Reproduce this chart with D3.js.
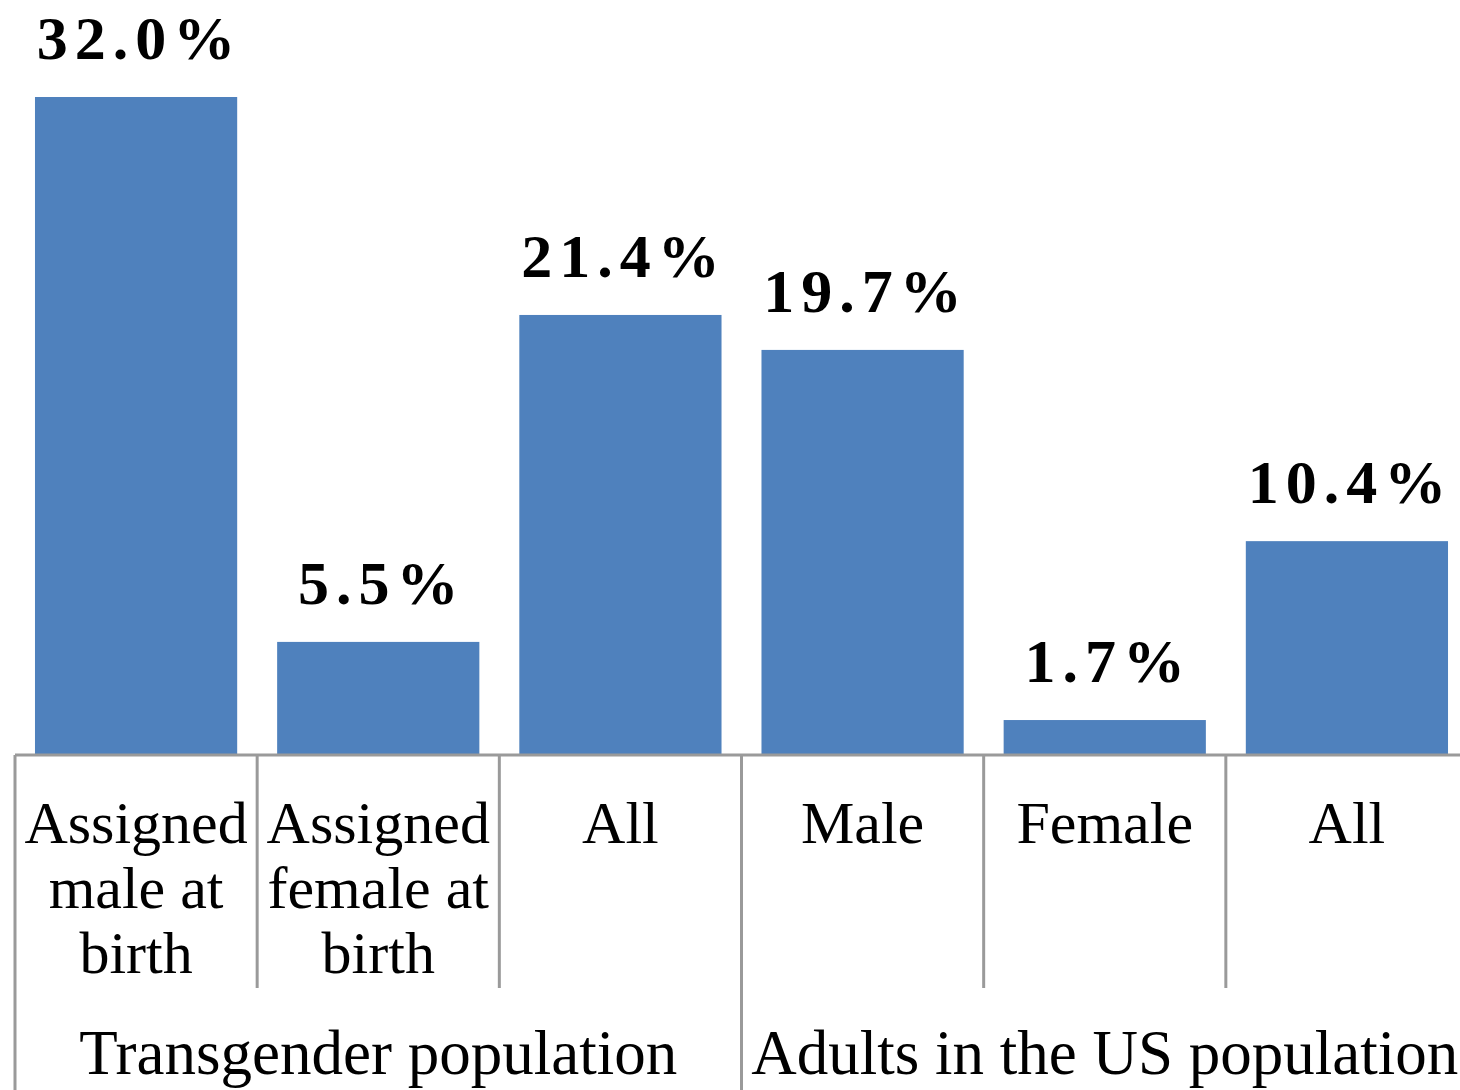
<!DOCTYPE html>
<html>
<head>
<meta charset="utf-8">
<script src="https://cdn.jsdelivr.net/npm/d3@7"></script>
<style>
  body { margin: 0; background: #fff; }
  svg text { font-family: Georgia, 'Liberation Serif', serif; fill: #000; }
</style>
</head>
<body>
<div id="chart"></div>
<script>
// data
let categories = ['tg-amab', 'tg-afab', 'tg-all', 'us-male', 'us-female', 'us-all']
let values = [32.0, 5.5, 21.4, 19.7, 1.7, 10.4]
let tickLabels = [
  ['Assigned', 'male at', 'birth'],
  ['Assigned', 'female at', 'birth'],
  ['All'],
  ['Male'],
  ['Female'],
  ['All']
]
let groups = ['Transgender population', 'Adults in the US population']
let groupSize = [3, 3]

let width = 1460
let height = 1090
let baseline = 755

let svg = d3.select('#chart')
  .append('svg')
  .attr('width', width)
  .attr('height', height)

let x = d3.scaleBand()
  .domain(categories)
  .range([15, 1468])
  .paddingInner(0.165)
  .paddingOuter(0.0825)

let y = d3.scaleLinear()
  .domain([0, 32])
  .range([baseline, 97])

let step = x.step()
let x0 = x.range()[0]

// bars
svg.selectAll('.bar')
  .data(values)
  .enter()
  .append('rect')
  .attr('class', 'bar')
  .attr('x', (d, i) => x(categories[i]))
  .attr('y', d => y(d))
  .attr('width', x.bandwidth())
  .attr('height', d => y(0) - y(d))
  .attr('fill', '#4F81BD')

// value labels (trailing letter-spacing shifted back so text stays centred)
let spacing = 7
svg.selectAll('.value-label')
  .data(values)
  .enter()
  .append('text')
  .attr('class', 'value-label')
  .attr('x', (d, i) => x(categories[i]) + x.bandwidth() / 2 + spacing / 2)
  .attr('y', d => y(d) - 38)
  .attr('text-anchor', 'middle')
  .attr('font-size', 62)
  .attr('font-weight', 700)
  .attr('letter-spacing', spacing)
  .text(d => d.toFixed(1) + '%')

// axis line
let lineColor = '#9a9a9a'
svg.append('line')
  .attr('x1', x0)
  .attr('x2', x.range()[1])
  .attr('y1', baseline)
  .attr('y2', baseline)
  .attr('stroke', lineColor)
  .attr('stroke-width', 3)

// category dividers
let groupEdges = [0]
groupSize.forEach((n, i) => groupEdges.push(groupEdges[i] + n))

d3.range(categories.length + 1).forEach(i => {
  let isGroupEdge = groupEdges.includes(i)
  svg.append('line')
    .attr('x1', x0 + i * step)
    .attr('x2', x0 + i * step)
    .attr('y1', baseline)
    .attr('y2', isGroupEdge ? height : 988)
    .attr('stroke', lineColor)
    .attr('stroke-width', 3)
})

// category labels
svg.selectAll('.cat-label')
  .data(tickLabels)
  .enter()
  .append('text')
  .attr('class', 'cat-label')
  .attr('text-anchor', 'middle')
  .attr('font-size', 60)
  .attr('transform', (d, i) => `translate(${x(categories[i]) + x.bandwidth() / 2},843)`)
  .selectAll('tspan')
  .data(d => d)
  .enter()
  .append('tspan')
  .attr('x', 0)
  .attr('y', (d, j) => j * 65)
  .text(d => d)

// group labels
svg.selectAll('.group-label')
  .data(groups)
  .enter()
  .append('text')
  .attr('class', 'group-label')
  .attr('text-anchor', 'middle')
  .attr('font-size', 63)
  .attr('x', (d, i) => x0 + step * (groupEdges[i] + groupEdges[i + 1]) / 2)
  .attr('y', 1074)
  .text(d => d)
</script>
</body>
</html>
